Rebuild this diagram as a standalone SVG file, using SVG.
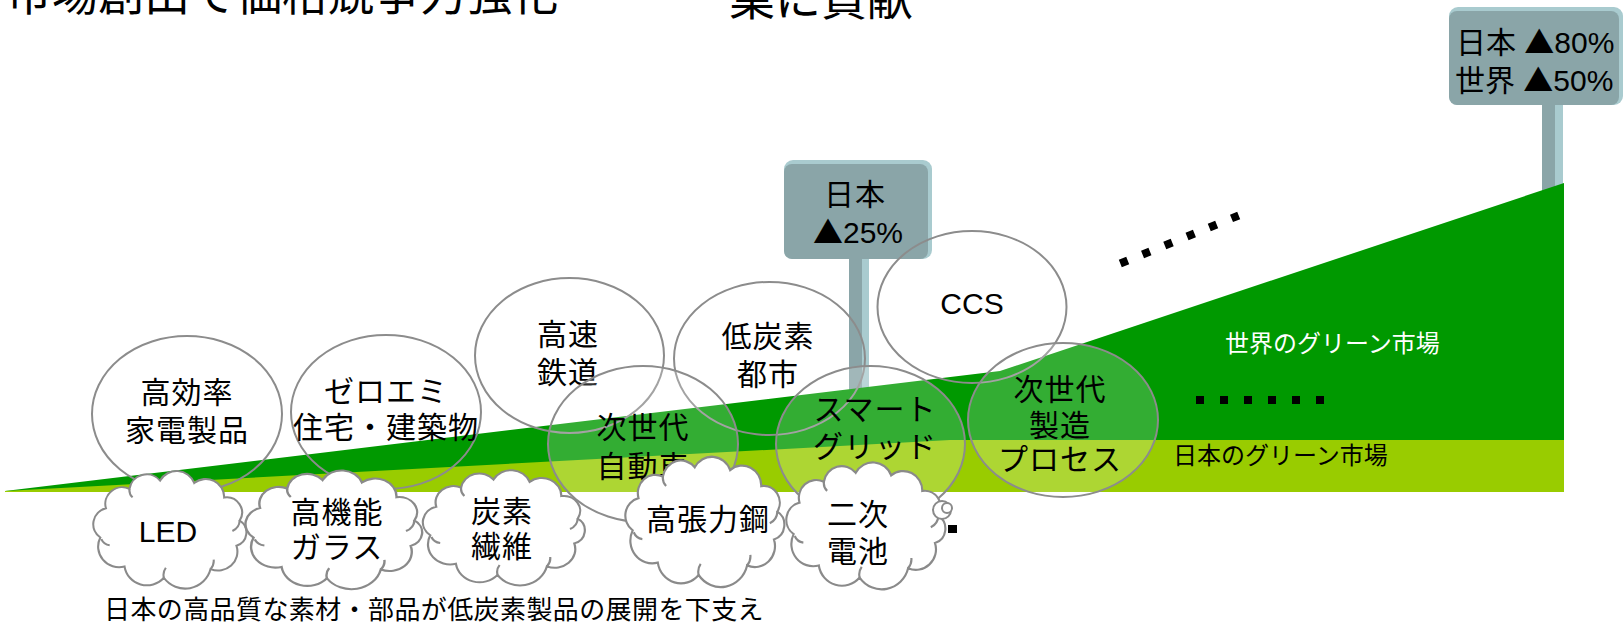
<svg xmlns="http://www.w3.org/2000/svg" xmlns:xlink="http://www.w3.org/1999/xlink" width="1624" height="624" viewBox="0 0 1624 624">
<defs>
<style>
text{font-family:"Liberation Sans","Noto Sans CJK JP",sans-serif;fill:#000;}
.lbl{font-size:30px;text-anchor:middle;letter-spacing:1px;}
.title{font-size:46px;}
.tri{font-family:"Noto Sans CJK JP",sans-serif;}
.ell{fill:none;stroke:#8c8c8c;stroke-width:2;}
.ellt{fill:#fff;fill-opacity:0.2;stroke:#8c8c8c;stroke-width:2;}
.cloud{fill:#fff;stroke:#8a8a8a;stroke-width:2;}
.curl{fill:none;stroke:#8a8a8a;stroke-width:2;}
.signhi{fill:#a9cbcf;}
.signbody{fill:#8aa5a8;}
.dots{stroke:#000;stroke-width:8;stroke-dasharray:8 16;fill:none;}
</style>
<g id="cloudshape">
<path class="cloud" d="M-67,8.3 A16,16 0 0 1 -61.6,-20.3 A16.2,16.2 0 0 1 -39,-39.3 A16.8,16.8 0 0 1 -9.5,-47.5 A18.1,18.1 0 0 1 23.3,-45.1 A17.7,17.7 0 0 1 52.1,-30.9 A14.9,14.9 0 0 1 67,-8.3 A13.7,13.7 0 0 1 63.9,16.4 A18.6,18.6 0 0 1 39,39.3 A25.1,25.1 0 0 1 -5.9,47.8 A21.7,21.7 0 0 1 -43.7,36.8 A20.2,20.2 0 0 1 -67,8.3 Z"/>
<path class="curl" d="M-66,10 A10,10 0 0 0 -58,16 M-5.9,47.8 A12,12 0 0 1 -4,38 M39,39.3 A12,12 0 0 0 42,30 M67,-8.3 A12,12 0 0 1 60,2 M-39,-39.3 A10,10 0 0 0 -36,-31"/>
</g>
</defs>
<rect width="1624" height="624" fill="#fff"/>

<g id="titles">
<text class="title" x="6" y="10">市場創出で価格競争力強化</text>
<text class="title" x="729" y="15">業に貢献</text>
</g>

<g id="sign-japan-25">
<rect class="signbody" x="849" y="255" width="13" height="140"/>
<rect class="signhi" x="862" y="255" width="7" height="140"/>
<rect class="signhi" x="784" y="160" width="148" height="99" rx="9"/>
<rect class="signbody" x="784" y="164" width="144" height="95" rx="8"/>
<text class="lbl" x="855" y="205">日本</text>
<text class="lbl" x="858" y="243" style="letter-spacing:0"><tspan class="tri">▲</tspan>25%</text>
</g>

<g id="sign-target">
<rect class="signbody" x="1542" y="100" width="13" height="100"/>
<rect class="signhi" x="1555" y="100" width="8" height="100"/>
<rect class="signhi" x="1449" y="7" width="174" height="98" rx="9"/>
<rect class="signbody" x="1449" y="11" width="170" height="94" rx="8"/>
<text x="1456" y="53" style="font-size:30px">日本 <tspan class="tri">▲</tspan>80%</text>
<text x="1455" y="91" style="font-size:30px">世界 <tspan class="tri">▲</tspan>50%</text>
</g>

<g id="market-world">
<polygon points="5,491 1000,371 1564,183 1564,492 5,492" fill="#009900"/>
<text x="1225" y="352" style="font-size:24px;fill:#fff">世界のグリーン市場</text>
</g>
<g id="market-japan">
<polygon points="5,491 950,440 1564,440 1564,492 5,492" fill="#99cc00"/>
<text x="1173" y="464" style="font-size:24px">日本のグリーン市場</text>
</g>

<g id="ellipsis-dots">
<line class="dots" x1="1120.3" y1="263.5" x2="1238.7" y2="215.5"/>
<line class="dots" x1="1196" y1="400" x2="1324" y2="400"/>
</g>

<g id="node-kaden">
<ellipse class="ell" cx="187" cy="414" rx="95" ry="78"/>
<text class="lbl" x="187" y="403">高効率</text>
<text class="lbl" x="187" y="441">家電製品</text>
</g>
<g id="node-zeroemi">
<ellipse class="ell" cx="386" cy="412" rx="95" ry="77"/>
<text class="lbl" x="386" y="402">ゼロエミ</text>
<text class="lbl" x="386" y="438">住宅・建築物</text>
</g>
<g id="node-kousoku">
<ellipse class="ell" cx="569.5" cy="355.5" rx="94.5" ry="77.5"/>
<text class="lbl" x="568" y="345">高速</text>
<text class="lbl" x="568" y="383">鉄道</text>
</g>
<g id="node-teitanso">
<ellipse class="ell" cx="769.5" cy="358.5" rx="95.5" ry="76.5"/>
<text class="lbl" x="768" y="347">低炭素</text>
<text class="lbl" x="768" y="385">都市</text>
</g>
<g id="node-ccs">
<ellipse class="ell" cx="972" cy="307" rx="94.5" ry="76"/>
<text class="lbl" x="972" y="314" style="letter-spacing:0">CCS</text>
</g>
<g id="node-jidousha">
<ellipse class="ellt" cx="643" cy="444" rx="95" ry="78"/>
<text class="lbl" x="643" y="438">次世代</text>
<text class="lbl" x="643" y="477">自動車</text>
</g>
<g id="node-smartgrid">
<ellipse class="ellt" cx="870.5" cy="444" rx="94.5" ry="78"/>
<text class="lbl" x="875" y="420">スマート</text>
<text class="lbl" x="875" y="457">グリッド</text>
</g>
<g id="node-seizou">
<ellipse class="ellt" cx="1063" cy="420" rx="95" ry="77"/>
<text class="lbl" x="1060" y="400">次世代</text>
<text class="lbl" x="1060" y="436">製造</text>
<text class="lbl" x="1060" y="470">プロセス</text>
</g>

<g id="cloud-led">
<use xlink:href="#cloudshape" href="#cloudshape" transform="translate(170,529) scale(1.04,1.02)"/>
<text class="lbl" x="168" y="542" style="letter-spacing:0">LED</text>
</g>
<g id="cloud-glass">
<use xlink:href="#cloudshape" href="#cloudshape" transform="translate(334,529) scale(1.2,1.03)"/>
<text class="lbl" x="337" y="523">高機能</text>
<text class="lbl" x="337" y="558">ガラス</text>
</g>
<g id="cloud-carbon">
<use xlink:href="#cloudshape" href="#cloudshape" transform="translate(504,527) scale(1.1,1.0)"/>
<text class="lbl" x="502" y="522">炭素</text>
<text class="lbl" x="502" y="557">繊維</text>
</g>
<g id="cloud-steel">
<use xlink:href="#cloudshape" href="#cloudshape" transform="translate(705,521) scale(1.08,1.13)"/>
<text class="lbl" x="708" y="530">高張力鋼</text>
</g>
<g id="cloud-battery">
<use xlink:href="#cloudshape" href="#cloudshape" transform="translate(866,525) scale(1.08,1.1)"/>
<circle cx="942" cy="510" r="9" fill="#fff" stroke="#8a8a8a" stroke-width="2"/>
<circle cx="947" cy="508" r="5" fill="#fff" stroke="#8a8a8a" stroke-width="2"/>
<rect x="948" y="525" width="9" height="8" fill="#000"/>
<text class="lbl" x="858" y="525">二次</text>
<text class="lbl" x="858" y="562">電池</text>
</g>

<g id="caption">
<text x="104" y="619" style="font-size:26px;letter-spacing:0.4px">日本の高品質な素材・部品が低炭素製品の展開を下支え</text>
</g>
</svg>
